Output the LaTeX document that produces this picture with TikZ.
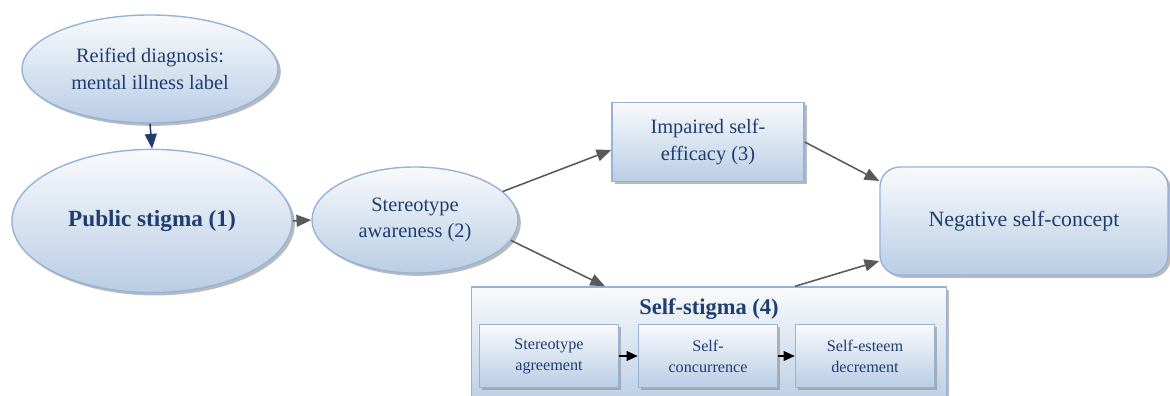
\documentclass[tikz,border=0pt]{standalone}
\usepackage{fontspec}
\setmainfont{Liberation Serif}
\usepackage{tikz}
\usetikzlibrary{arrows,arrows.meta,shapes,positioning,shadows}

\definecolor{fillTop}{HTML}{F9FAFC}
\definecolor{fillBot}{HTML}{B9CDE5}
\definecolor{lineBlue}{HTML}{95B3D7}
\definecolor{textBlue}{HTML}{1F3D6E}
\definecolor{arrGray}{HTML}{595959}

\begin{document}
\begin{tikzpicture}[x=0.025cm, y=-0.025cm,
    every node/.style={text=textBlue, align=center, font=\fontsize{14.5}{19}\selectfont},
    shaded/.style={top color=fillTop, bottom color=fillBot, draw=lineBlue, line width=1pt,
        drop shadow={shadow xshift=2pt, shadow yshift=-2pt, fill=black!45, opacity=0.6}},
    oval/.style={shaded, ellipse, inner sep=0pt},
    box/.style={shaded, rectangle, inner sep=2pt},
    smallbox/.style={box, minimum width=3.475cm, minimum height=1.58cm, font=\fontsize{11.5}{15}\selectfont},
    grayarrow/.style={-{Triangle[length=10.5pt,width=8.5pt]}, draw=arrGray, fill=arrGray, line width=1.1pt},
    blackarrow/.style={-{Triangle[length=8pt,width=7pt]}, draw=black, line width=1pt}]
    \useasboundingbox (0,0) rectangle (1170,395);
    \clip (0,0) rectangle (1170,395);

    \node[oval, minimum width=6.4cm, minimum height=2.7cm] (reified) at (150,69)
        {Reified diagnosis:\\mental illness label};
    \node[oval, minimum width=7cm, minimum height=3.58cm, font=\fontsize{16.5}{19}\selectfont\bfseries] (public) at (152,221)
        {Public stigma (1)};
    \node[oval, minimum width=5.15cm, minimum height=2.65cm] (aware) at (415,220)
        {Stereotype\\awareness (2)};
    \node[box, minimum width=4.8cm, minimum height=1.98cm] (efficacy) at (708,142)
        {Impaired self-\\efficacy (3)};
    \node[box, rounded corners=0.5cm, minimum width=7.2cm, minimum height=2.7cm,
        font=\fontsize{15.5}{19}\selectfont] (selfconcept) at (1024,221)
        {Negative self-concept};

    % self-stigma block
    \node[box, minimum width=11.875cm, minimum height=3cm] (selfstigma) at (709,347) {};
    \node[font=\fontsize{16}{19}\selectfont\bfseries] (sstitle) at (709,309) {Self-stigma (4)};
    \node[smallbox] (agree) at (549,356) {Stereotype\\agreement};
    \node[smallbox] (concur) at (708,356) {Self-\\concurrence};
    \node[smallbox] (esteem) at (865,356) {Self-esteem\\decrement};

    \draw[-{Triangle[length=10.5pt,width=8.5pt]}, draw=textBlue, fill=textBlue, line width=1.1pt] (reified.south) -- (public.north);
    \draw[grayarrow] (public.east) -- (aware.west);
    \draw[grayarrow] (aware.18) -- ([yshift=-0.2cm]efficacy.west);
    \draw[grayarrow] (aware.-12) -- ([xshift=-2.6cm]selfstigma.north);
    \draw[grayarrow] (efficacy.east) -- ([yshift=1cm]selfconcept.west);
    \draw[grayarrow] ([xshift=2.15cm]selfstigma.north) -- ([yshift=-1cm]selfconcept.west);
    \draw[blackarrow] (agree) -- (concur);
    \draw[blackarrow] (concur) -- (esteem);
\end{tikzpicture}
\end{document}
